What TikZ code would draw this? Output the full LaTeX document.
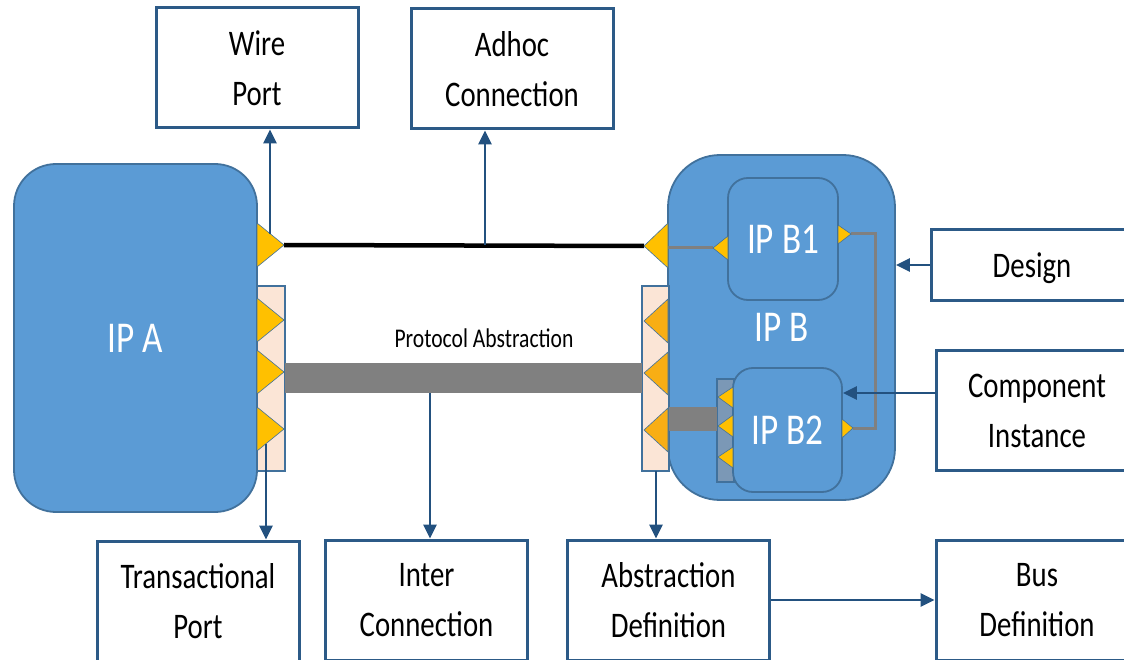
\documentclass[tikz,border=0pt]{standalone}
\usepackage{fontspec}
\setmainfont[FakeStretch=0.8]{Carlito}
\usetikzlibrary{arrows.meta}
\definecolor{ipfill}{HTML}{5B9BD5}
\definecolor{ipdraw}{HTML}{41719C}
\definecolor{boxblue}{HTML}{2C5A87}
\definecolor{arrblue}{HTML}{23517F}
\definecolor{pinkfill}{HTML}{FBE5D6}
\definecolor{portyellow}{HTML}{FFC000}
\definecolor{portorange}{HTML}{F8AE14}
\definecolor{barggray}{HTML}{808080}
\definecolor{slate}{HTML}{7B98B6}
\begin{document}
\begin{tikzpicture}[x=1pt,y=-1pt,
  lbl/.style={draw=boxblue, line width=3pt, fill=white, minimum width=202pt, minimum height=120pt,
    align=center, font=\fontsize{36}{50}\selectfont, text depth=0pt, inner sep=0pt},
  ip/.style={draw=ipdraw, fill=ipfill, line width=1.8pt, text=white,
    font=\fontsize{44}{50}\selectfont, text depth=0pt, inner sep=0pt},
  pinkrect/.style={draw=ipdraw, fill=pinkfill, line width=1.5pt, inner sep=0pt},
  port/.style={fill=portyellow, draw=ipdraw, line width=0.6pt},
  portr/.style={fill=portorange, draw=ipdraw, line width=0.6pt},
  arr/.style={draw=arrblue, line width=2.8pt, -{Triangle[length=14pt,width=13pt]}},
  wiring/.style={draw=barggray, line width=3pt},
]
\useasboundingbox (0,0) rectangle (1124,660);
\clip (0,0) rectangle (1124,660);

% label boxes
\node[lbl] (wp) at (257,68) {Wire\\Port};
\node[lbl] (ad) at (512,69) {Adhoc\\Connection};
\node[lbl, minimum height=70pt] (ds) at (1032,265) {Design};
\node[lbl] (ci) at (1037,410.5) {Component\\Instance};
\node[lbl] (tp) at (198,601) {Transactional\\Port};
\node[lbl] (ic) at (426.5,600) {Inter\\Connection};
\node[lbl] (abs) at (668.5,600) {Abstraction\\Definition};
\node[lbl] (bus) at (1037,600) {Bus\\Definition};

% IP blocks
\node[ip, minimum width=243pt, minimum height=348pt, rounded corners=42pt] (ipa) at (135.5,338) {IP A};
\node[ip, minimum width=227pt, minimum height=345pt, rounded corners=52pt] (ipb) at (781.5,327.5) {IP B};
\node[ip, minimum width=110pt, minimum height=122pt, rounded corners=20pt] (b1) at (783,239) {IP B1};
\filldraw[fill=slate, draw=ipdraw, line width=1.5pt] (717,379) rectangle (734,482);
\node[ip, minimum width=109pt, minimum height=124pt, rounded corners=20pt] (b2) at (787.5,430) {IP B2};

% transaction bundles
\node[pinkrect, minimum width=28pt, minimum height=185pt] (lpr) at (271,378.5) {};
\node[pinkrect, minimum width=27pt, minimum height=185pt] (rpr) at (655.5,378.5) {};

% coordinates
\coordinate (lw) at (284,245);
\coordinate (rw) at (644,246);
\coordinate (barl) at (285,378);
\coordinate (barr) at (642,378);

% connections
\draw[line width=4.5pt] (lw) -- (rw);
\draw[draw=barggray, line width=30pt] (barl) -- (barr);
\fill[barggray] (669,407) rectangle (717,431);
\draw[wiring] (668,248) -- (713,248);
\draw[wiring] (851,234) -| (875,428) -- (853,428);

% ports IP A
\filldraw[port] (257,223) -- (lw) -- (257,267) -- cycle;
\filldraw[port] (257,298) -- (284,320) -- (257,342) -- cycle;
\filldraw[port] (257,350) -- (284,372) -- (257,394) -- cycle;
\filldraw[port] (257,407) -- (284,429) -- (257,451) -- cycle;
% ports IP B
\filldraw[port] (668,223) -- (rw) -- (668,268) -- cycle;
\filldraw[portr] (668,299) -- (644,321) -- (668,343) -- cycle;
\filldraw[portr] (668,352) -- (644,373) -- (668,395) -- cycle;
\filldraw[portr] (668,408) -- (644,430) -- (668,452) -- cycle;
% ports IP B1 / B2
\filldraw[port] (728,236) -- (713,248) -- (728,260) -- cycle;
\filldraw[port] (838,225) -- (851,234) -- (838,244) -- cycle;
\filldraw[port] (842,419) -- (853,428) -- (842,438) -- cycle;
\filldraw[port] (733,387) -- (718,397) -- (733,408) -- cycle;
\filldraw[port] (733,415) -- (718,426) -- (733,437) -- cycle;
\filldraw[port] (733,447) -- (718,457) -- (733,468) -- cycle;

\node[anchor=base, font=\fontsize{27}{30}\selectfont, inner sep=0pt] (pa) at (484,347) {Protocol Abstraction};

% arrows
\coordinate (wpa) at (270,234);
\coordinate (ada) at (485,245);
\coordinate (tpa) at (266,444);
\coordinate (ica) at (430,393);
\coordinate (aba) at (656,471);
\coordinate (cia) at (936,393);
\draw[arr] (wpa) -- (wpa |- wp.south);
\draw[arr] (ada) -- (ada |- ad.south);
\draw[arr] (tpa) -- (tpa |- tp.north);
\draw[arr] (ica) -- (ica |- ic.north);
\draw[arr] (aba) -- (aba |- abs.north);
\draw[arr] (ds.west) -- (ds.west -| ipb.east);
\draw[arr] (cia) -- (cia -| b2.east);
\draw[arr] (abs.east) -- (bus.west);
\end{tikzpicture}
\end{document}
